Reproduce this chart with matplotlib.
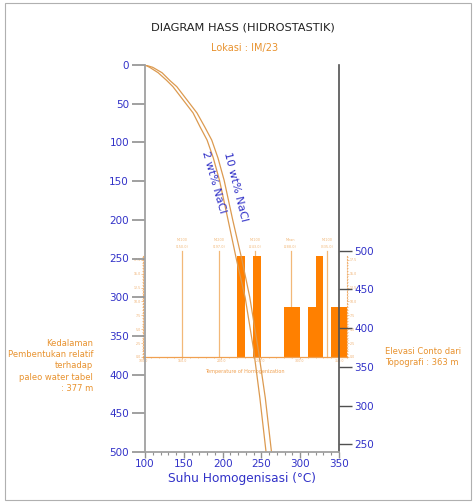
import matplotlib.pyplot as plt
from matplotlib.patches import Rectangle
import numpy as np

# boiling point - depth curves (hydrostatic), depth in m, T in deg C
depth = [0, 3, 10, 20, 28, 45, 62, 80, 97, 120, 149, 200, 252, 300, 368, 430, 500]
t_2wt = [100, 106, 117, 128, 136, 149, 162, 171, 180, 188, 196, 207, 218, 229, 240, 248, 256]
t_10wt = [100, 110, 122, 132, 141, 154, 167, 177, 186, 194, 202, 213, 225, 235, 246, 255, 263]

# homogenization temperature histogram (bin left edge, count)
bin_left = [220, 240, 280, 290, 310, 320, 340, 350]
bin_count = [2, 2, 1, 1, 1, 2, 1, 1]
bin_width = 10

# reference lines inside the histogram
ref_x = [150, 197, 243, 288, 335]
ref_top = ['M-100', 'M-200', 'M-100', 'Mean', 'M-100']
ref_bot = ['(150.0)', '(197.0)', '(243.0)', '(288.0)', '(335.0)']

elev_sample = 363
paleo_depth = 377
datum = elev_sample + paleo_depth

blue = '#3232c8'
orange = '#e8922e'
bar_orange = '#ff8000'
curve_col = '#dc9a50'

fig = plt.figure(figsize=(4.76, 5.03), dpi=100)
fig.patches.append(Rectangle((0.011, 0.006), 0.978, 0.988, transform=fig.transFigure,
                             fill=False, edgecolor='#b0b0b0', lw=0.8))

W, H = 476, 503
def fx(px):
    return px / W
def fy(py):
    return 1 - py / H

# histogram inset
pct = 100 * np.array(bin_count) / sum(bin_count)
ins = fig.add_axes([fx(143), fy(357), fx(347) - fx(143), fy(256) - fy(357)])
ins.set_zorder(2)
ins.patch.set_visible(False)
ins.bar(bin_left, pct, width=bin_width, align='edge', color=bar_orange, zorder=2)
ins.set_xlim(100, 360)
ins.set_ylim(0, pct.max())
for x, a, b in zip(ref_x, ref_top, ref_bot):
    ins.plot([x, x], [0, 19.1], color='#f2b878', lw=0.9, clip_on=False, zorder=1)
    ins.text(x, 21.1, a, fontsize=2.5, color='#f2b878', ha='center', va='center')
    ins.text(x, 19.8, b, fontsize=2.5, color='#f2b878', ha='center', va='center')
ins.set_xticks(np.arange(100, 351, 50))
ins.set_xticklabels([f'{v:.1f}' for v in np.arange(100, 351, 50)])
ins.set_xticks(np.arange(100, 361, 10), minor=True)
ins.set_yticks(np.arange(0, 18, 2.5))
ins.set_yticklabels([f'{v:.1f}' for v in np.arange(0, 18, 2.5)])
ins.set_yticks(np.arange(0, 18.2, 0.5), minor=True)
ins.tick_params(which='both', colors='#f0b070', labelsize=2.3, length=1.2, width=0.5,
                pad=0.5, right=True, labelright=True)
ins.tick_params(which='minor', length=0.8)
for s in ['left', 'right']:
    ins.spines[s].set_color('#f0b070')
    ins.spines[s].set_linestyle(':')
    ins.spines[s].set_linewidth(0.8)
ins.spines['bottom'].set_color('#f0a050')
ins.spines['bottom'].set_linewidth(0.9)
ins.spines['top'].set_visible(False)
ins.set_xlabel('Temperature of Homogenization', fontsize=3.5, color='#f0a050', labelpad=4)

# main diagram
ax = fig.add_axes([fx(145), fy(452), fx(339) - fx(145), fy(65) - fy(452)])
ax.set_zorder(3)
ax.patch.set_visible(False)
ax.plot(t_2wt, depth, color=curve_col, lw=0.9)
ax.plot(t_10wt, depth, color=curve_col, lw=0.9)
ax.set_xlim(100, 350)
ax.set_ylim(500, 0)
ax.set_xticks(np.arange(100, 351, 50))
ax.set_xticks(np.arange(100, 351, 10), minor=True)
ax.set_yticks(np.arange(0, 501, 50))
ax.tick_params(axis='y', length=9.5, width=1.2, color='#909090', labelcolor=blue,
               labelsize=7.5, pad=2)
ax.tick_params(axis='x', which='major', length=4, width=1, color='#909090',
               labelcolor=blue, labelsize=7.5, pad=1)
ax.tick_params(axis='x', which='minor', length=2.5, width=0.8, color='#909090')
ax.spines['top'].set_visible(False)
ax.spines['right'].set_visible(False)
ax.spines['left'].set_color('#a0a0a0')
ax.spines['left'].set_linewidth(1.3)
ax.spines['bottom'].set_color('#a0a0a0')
ax.spines['bottom'].set_linewidth(1.3)
ax.set_xlabel('Suhu Homogenisasi (°C)', fontsize=8.7, color=blue, labelpad=2)

ax.text(188, 151, '2 wt% NaCl', color=blue, fontsize=8, rotation=-74,
        ha='center', va='center')
ax.text(217, 158, '10 wt% NaCl', color=blue, fontsize=8, rotation=-76,
        ha='center', va='center')

# elevation axis on the right
sec = ax.secondary_yaxis('right', functions=(lambda d: datum - d, lambda e: datum - e))
sec.set_yticks(np.arange(250, 501, 50))
sec.tick_params(length=9, width=1.0, color='#505050', labelcolor=blue, labelsize=7.5, pad=2)
sec.spines['right'].set_color('#505050')
sec.spines['right'].set_linewidth(1.2)

fig.text(fx(243), fy(28), 'DIAGRAM HASS (HIDROSTASTIK)', fontsize=8.2, ha='center',
         va='center', color='#202020')
fig.text(fx(245), fy(48), 'Lokasi : IM/23', fontsize=7, ha='center', va='center',
         color=orange)
fig.text(fx(93), fy(366),
         'Kedalaman\nPembentukan relatif\nterhadap\npaleo water tabel\n: %d m' % paleo_depth,
         fontsize=6, ha='right', va='center', multialignment='right', color=orange,
         linespacing=1.3)
fig.text(fx(385), fy(357), 'Elevasi Conto dari\nTopografi : %d m' % elev_sample,
         fontsize=6, ha='left', va='center', color=orange, linespacing=1.3)

fig.savefig('out.png', dpi=100)
